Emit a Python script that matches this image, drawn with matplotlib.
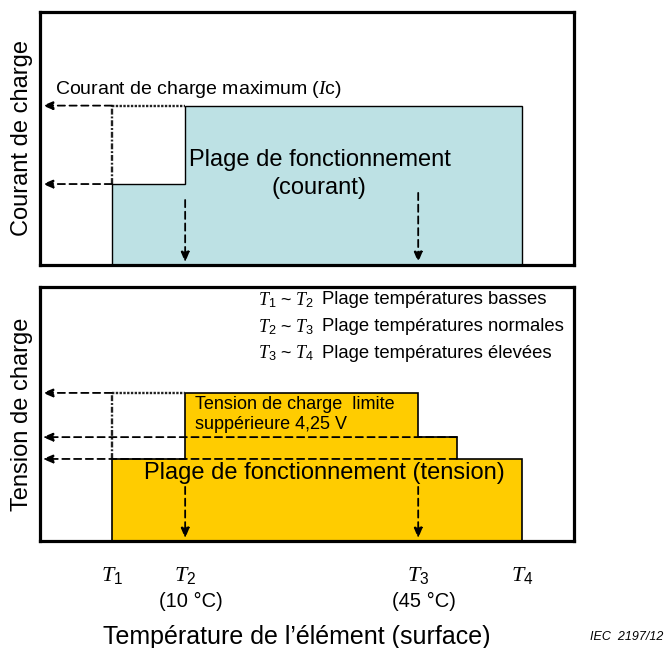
import matplotlib
matplotlib.use('Agg')
import matplotlib.pyplot as plt

plt.rcParams['font.family'] = ['Liberation Sans', 'DejaVu Sans']
plt.rcParams['mathtext.fontset'] = 'custom'
plt.rcParams['mathtext.it'] = 'Liberation Serif:italic'
plt.rcParams['mathtext.rm'] = 'Liberation Sans'

# temperature axis (schematic units, T2 = 10 °C, T3 = 45 °C)
t_labels = ['$T_1$', '$T_2$', '$T_3$', '$T_4$']
t_pos = [-1.0, 10.0, 45.0, 60.6]
t_notes = ['', '(10 °C)', '(45 °C)', '']
t_mid = 50.8  # end of the middle voltage step

# charge current profile (top panel)
current_x = [t_pos[0], t_pos[1], t_pos[3]]
current_levels = [3.2, 6.3]

# charge voltage profile (bottom panel)
voltage_x = [t_pos[0], t_pos[1], t_pos[2], t_mid, t_pos[3]]
voltage_levels = [3.23, 5.83, 4.09, 3.23]

legend_pairs = ['$T_1$ ~ $T_2$', '$T_2$ ~ $T_3$', '$T_3$ ~ $T_4$']
legend_texts = ['Plage températures basses', 'Plage températures normales',
                'Plage températures élevées']
legend_y = [9.49, 8.43, 7.40]

XLIM = (-11.8, 68.4)
YLIM = (0, 10)
DASH = (0, (4, 2.5))


def step_path(xs, levels):
    px, py = [xs[0]], [0]
    for i, lev in enumerate(levels):
        px += [xs[i], xs[i + 1]]
        py += [lev, lev]
    px.append(xs[-1])
    py.append(0)
    return px, py


def left_arrow(ax, x0, y):
    ax.annotate('', xy=(XLIM[0], y), xytext=(x0, y), zorder=5,
                arrowprops=dict(arrowstyle='-|>,head_length=0.6,head_width=0.25',
                                ls=DASH, lw=1.3, color='k', shrinkA=0, shrinkB=2))


def down_arrow(ax, x, y0):
    ax.annotate('', xy=(x, YLIM[0]), xytext=(x, y0), zorder=5,
                arrowprops=dict(arrowstyle='-|>,head_length=0.6,head_width=0.25',
                                ls=DASH, lw=1.3, color='k', shrinkA=0, shrinkB=2))


def setup(ax):
    ax.set_xlim(*XLIM)
    ax.set_ylim(*YLIM)
    ax.set_xticks([])
    ax.set_yticks([])
    for sp in ax.spines.values():
        sp.set_linewidth(2.3)
        sp.set_zorder(10)


def guide_lines(ax, top, bottom):
    # dotted top edge and dash-dot vertical at T1
    ax.plot([t_pos[0], t_pos[1]], [top, top], ls=(0, (1, 0.6)),
            lw=1.7, color='#222222', zorder=4)
    ax.plot([t_pos[0], t_pos[0]], [bottom, top], ls=(0, (2.5, 0.8, 0.8, 0.8)),
            lw=1.7, color='#222222', zorder=4)


fig = plt.figure(figsize=(6.66, 6.48), dpi=100)
ax1 = fig.add_axes([40 / 666, 1 - 265 / 648, 534 / 666, 253 / 648])
ax2 = fig.add_axes([40 / 666, 1 - 541 / 648, 534 / 666, 254 / 648])
setup(ax1)
setup(ax2)

# --- top panel: current ---
px, py = step_path(current_x, current_levels)
ax1.fill(px, py, facecolor='#bde1e4', edgecolor='k', lw=1.0, zorder=1)
left_arrow(ax1, t_pos[0], current_levels[1])
left_arrow(ax1, t_pos[0], current_levels[0])
guide_lines(ax1, current_levels[1], current_levels[0])
down_arrow(ax1, t_pos[1], 2.57)
down_arrow(ax1, t_pos[2], 2.85)
ax1.text(-9.55, 6.92, 'Courant de charge maximum ($I$c)', fontsize=14,
         va='center', ha='left')
ax1.text(30.2, 4.15, 'Plage de fonctionnement', fontsize=17, ha='center', va='center')
ax1.text(30.1, 3.05, '(courant)', fontsize=17, ha='center', va='center')
ax1.text(-0.034, 0.5, 'Courant de charge', fontsize=17, rotation=90,
         ha='center', va='center', transform=ax1.transAxes)

# --- bottom panel: voltage ---
px, py = step_path(voltage_x, voltage_levels)
ax2.fill(px, py, facecolor='#ffcc00', edgecolor='k', lw=1.2, zorder=1)
left_arrow(ax2, t_pos[0], voltage_levels[1])
left_arrow(ax2, t_mid, voltage_levels[2])
left_arrow(ax2, t_mid, voltage_levels[3])
guide_lines(ax2, voltage_levels[1], voltage_levels[0])
down_arrow(ax2, t_pos[1], 2.13)
down_arrow(ax2, t_pos[2], 2.13)

for pair, txt, y in zip(legend_pairs, legend_texts, legend_y):
    ax2.text(20.9, y, pair, fontsize=13, va='center', ha='left')
    ax2.text(30.55, y, txt, fontsize=13.3, va='center', ha='left')

ax2.text(11.5, 5.39, 'Tension de charge  limite', fontsize=13, va='center')
ax2.text(11.5, 4.57, 'suppérieure 4,25 V', fontsize=13, va='center')
ax2.text(30.9, 2.68, 'Plage de fonctionnement (tension)', fontsize=17,
         ha='center', va='center', zorder=6)
ax2.text(-0.034, 0.5, 'Tension de charge', fontsize=17, rotation=90,
         ha='center', va='center', transform=ax2.transAxes)

# temperature labels under the bottom panel
tr = ax2.get_xaxis_transform()
for x, lab, note in zip(t_pos, t_labels, t_notes):
    ax2.text(x, -0.135, lab, fontsize=16, ha='center', va='center', transform=tr)
    if note:
        ax2.text(x + 0.8, -0.24, note, fontsize=14.5, ha='center', va='center',
                 transform=tr)
ax2.text(26.8, -0.378, 'Température de l\u2019élément (surface)', fontsize=18,
         ha='center', va='center', transform=tr)

fig.text(663 / 666, 1 - 637 / 648, 'IEC  2197/12', fontsize=9, style='italic',
         ha='right', va='center')

fig.savefig('out.png', dpi=100)
plt.close(fig)
